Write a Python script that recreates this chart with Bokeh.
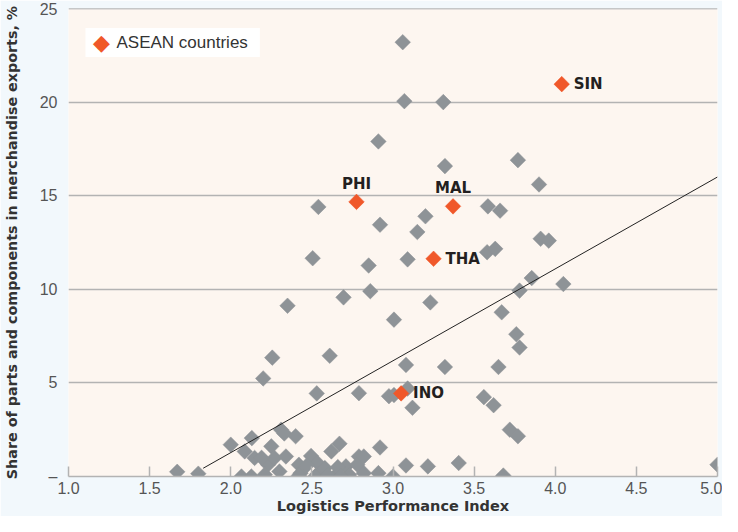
import math
from bokeh.plotting import figure
from bokeh.models import Range1d, FixedTicker, Span, ColumnDataSource, Label
from bokeh.embed import file_html
from bokeh.resources import INLINE
from bokeh.core.properties import value

# ---- data ----
other_x = [3.06, 3.07, 3.31, 2.91, 3.32, 3.77, 3.90, 2.54, 3.585, 3.66, 3.20, 3.15,
           2.92, 2.505, 3.09, 3.58, 3.63, 2.85, 2.86, 2.695, 3.78, 3.855, 4.05, 3.91,
           3.96, 3.67, 2.35, 3.006, 3.23, 3.76, 3.78, 2.256, 2.61, 2.20, 3.08, 3.32,
           3.65, 2.53, 2.79, 2.975, 3.006, 3.09, 3.12, 3.56, 3.62, 3.72, 3.77, 2.92,
           3.08, 3.215, 3.405, 2.91, 3.00, 3.68, 5.00, 1.67, 1.80,
           2.00, 2.13, 2.086, 2.147, 2.25, 2.23, 2.27, 2.066, 2.127, 2.21, 2.31, 2.33,
           2.40, 2.67, 2.62, 2.34, 2.495, 2.79, 2.42, 2.535, 2.71, 2.78, 2.30, 2.43,
           2.535, 2.65, 2.73, 2.82, 2.47, 2.58, 2.66, 2.42, 2.52, 2.60, 2.68, 2.19,
           2.82]
other_y = [23.2, 20.05, 20.0, 17.9, 16.58, 16.9, 15.6, 14.4, 14.43, 14.2, 13.9, 13.06,
           13.45, 11.66, 11.6, 11.98, 12.16, 11.27, 9.9, 9.57, 9.93, 10.6, 10.28, 12.7,
           12.6, 8.77, 9.12, 8.38, 9.3, 7.6, 6.89, 6.35, 6.45, 5.24, 5.96, 5.85,
           5.85, 4.44, 4.45, 4.29, 4.35, 4.7, 3.67, 4.24, 3.81, 2.5, 2.15, 1.55,
           0.59, 0.54, 0.72, 0.18, 0.0, 0.05, 0.63, 0.25, 0.15,
           1.7, 2.05, 1.34, 0.99, 1.61, 0.63, 0.99, 0.0, 0.0, 0.1, 2.5, 2.3,
           2.15, 1.75, 1.34, 1.07, 1.1, 1.07, 0.63, 0.72, 0.54, 0.63, 0.27, 0.18,
           0.13, 0.09, 0.09, 0.18, 0.6, 0.45, 0.5, 0.05, 0.0, 0.05, 0.0, 1.0,
           1.07]

asean_names = ["SIN", "PHI", "MAL", "THA", "INO"]
asean_x = [4.04, 2.775, 3.37, 3.25, 3.05]
asean_y = [20.96, 14.67, 14.43, 11.63, 4.44]

fit_x = [1.83, 5.0]
fit_y = [0.44, 16.0]

x_ticks = [1.0, 1.5, 2.0, 2.5, 3.0, 3.5, 4.0, 4.5, 5.0]
x_tick_labels = ["1.0", "1.5", "2.0", "2.5", "3.0", "3.5", "4.0", "4.5", "5.0"]
y_ticks = [0, 5, 10, 15, 20, 25]
y_tick_labels = ["–", "5", "10", "15", "20", "25"]

x_title = "Logistics Performance Index"
y_title = "Share of parts and components in merchandise exports, %"
legend_title = "ASEAN countries"

# label placement style: right of marker or above it
label_side = {"SIN": "right", "PHI": "above", "MAL": "above", "THA": "right", "INO": "right"}

# ---- styles ----
GRAY = "#8e9397"
ORANGE = "#f0582a"
GRID = "#b3b3b3"
FONT = "Liberation Sans"
BOLD_FONT = "DejaVu Sans"

p = figure(width=722, height=516, output_backend="svg", toolbar_location=None,
           x_range=Range1d(1.0, 5.0), y_range=Range1d(0, 25),
           min_border_left=65, min_border_right=5, min_border_top=8, min_border_bottom=40)
p.background_fill_color = "#fdf6f0"
p.border_fill_color = "#f2f8fc"
p.outline_line_color = None

# grid
p.xgrid.visible = False
p.ygrid.ticker = FixedTicker(ticks=[5, 10, 15, 20])
p.ygrid.grid_line_color = GRID
p.ygrid.grid_line_width = 1.5
p.add_layout(Span(location=25, dimension="width", line_color="#8f959a", line_width=1.5))

# x axis
p.xaxis.ticker = FixedTicker(ticks=x_ticks)
p.xaxis.major_label_overrides = {t: s for t, s in zip(x_ticks, x_tick_labels)}
p.xaxis.axis_line_color = GRID
p.xaxis.axis_line_width = 1.5
p.xaxis.major_tick_line_color = GRID
p.xaxis.major_tick_line_width = 1.5
p.xaxis.major_tick_in = 10
p.xaxis.major_tick_out = 0
p.xaxis.minor_tick_line_color = None
p.xaxis.major_label_text_font = FONT
p.xaxis.major_label_text_font_size = "16px"
p.xaxis.major_label_text_color = "#555555"
p.xaxis.major_label_standoff = 5
p.xaxis.axis_label = x_title
p.xaxis.axis_label_text_font = BOLD_FONT
p.xaxis.axis_label_text_font_style = "bold"
p.xaxis.axis_label_text_font_size = "14.5px"
p.xaxis.axis_label_text_color = "#333333"
p.xaxis.axis_label_standoff = 1

# y axis
p.yaxis.ticker = FixedTicker(ticks=y_ticks)
p.yaxis.major_label_overrides = {t: s for t, s in zip(y_ticks, y_tick_labels)}
p.yaxis.axis_line_color = None
p.yaxis.major_tick_line_color = None
p.yaxis.minor_tick_line_color = None
p.yaxis.major_label_text_font = FONT
p.yaxis.major_label_text_font_size = "16px"
p.yaxis.major_label_text_color = "#555555"
p.yaxis.major_label_standoff = 5
p.yaxis.axis_label = y_title
p.yaxis.axis_label_text_font = BOLD_FONT
p.yaxis.axis_label_text_font_style = "bold"
p.yaxis.axis_label_text_font_size = "14.3px"
p.yaxis.axis_label_text_color = "#333333"
p.yaxis.axis_label_standoff = 17

# marks
p.scatter(other_x, other_y, marker="square", angle=math.pi / 4, size=11,
          fill_color=GRAY, line_color=GRAY, line_width=0.5)
p.line(fit_x, fit_y, line_color="#222222", line_width=1)
p.scatter(asean_x, asean_y, marker="square", angle=math.pi / 4, size=11,
          fill_color=ORANGE, line_color=ORANGE, line_width=0.5)

right_idx = [i for i, n in enumerate(asean_names) if label_side[n] == "right"]
above_idx = [i for i, n in enumerate(asean_names) if label_side[n] == "above"]
src_r = ColumnDataSource(dict(x=[asean_x[i] for i in right_idx], y=[asean_y[i] for i in right_idx],
                              t=[asean_names[i] for i in right_idx]))
src_a = ColumnDataSource(dict(x=[asean_x[i] for i in above_idx], y=[asean_y[i] for i in above_idx],
                              t=[asean_names[i] for i in above_idx]))
p.text(x="x", y="y", text="t", source=src_r, x_offset=12, text_align="left",
       text_baseline="middle", text_font=value(BOLD_FONT), text_font_style="bold",
       text_font_size="15px", text_color="#231f20")
p.text(x="x", y="y", text="t", source=src_a, y_offset=-18, text_align="center",
       text_baseline="middle", text_font=value(BOLD_FONT), text_font_style="bold",
       text_font_size="15px", text_color="#231f20")

# legend box (screen units, relative to the plot frame)
legend_box = Label(x=17, y=434, x_units="screen", y_units="screen", text=legend_title,
                   text_align="left", text_baseline="middle",
                   text_font=FONT, text_font_size="17px", text_color="#333333",
                   background_fill_color="white", background_fill_alpha=1.0,
                   padding=dict(left=31, right=12, top=5, bottom=5))
legend_mark = Label(x=33, y=434, x_units="screen", y_units="screen", text="◆",
                    text_align="center", text_baseline="middle",
                    text_font="DejaVu Sans", text_font_size="22px", text_color=ORANGE)
p.add_layout(legend_box)
p.add_layout(legend_mark)

open("out.html", "w").write(file_html(p, INLINE))
